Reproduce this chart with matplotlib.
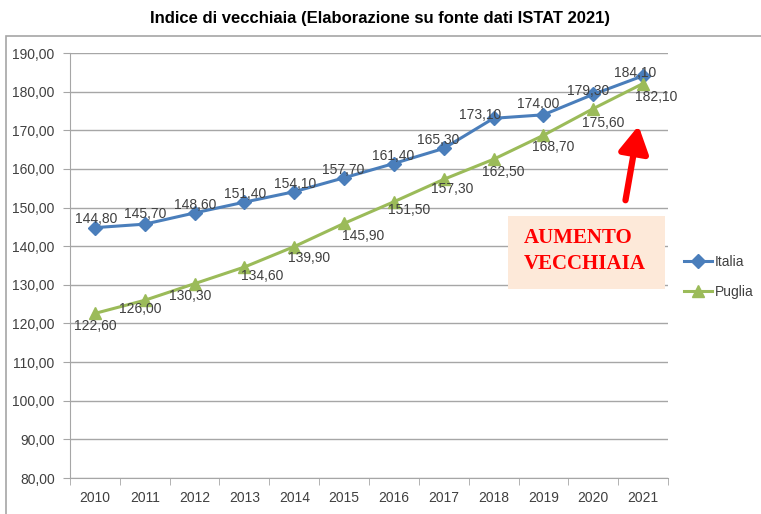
import numpy as np
import matplotlib.pyplot as plt
from matplotlib.patches import Rectangle, FancyArrowPatch

anni = ['2010', '2011', '2012', '2013', '2014', '2015', '2016', '2017', '2018', '2019', '2020', '2021']
italia = [144.8, 145.7, 148.6, 151.4, 154.1, 157.7, 161.4, 165.3, 173.1, 174.0, 179.3, 184.1]
puglia = [122.6, 126.0, 130.3, 134.6, 139.9, 145.9, 151.5, 157.3, 162.5, 168.7, 175.6, 182.1]
y_ticks = np.arange(80, 191, 10)

# spostamento delle etichette (pixel)
off_italia = [(1, 9), (0, 10), (1, 8), (1, 8), (1, 8), (-1, 8), (-1, 8), (-6, 8),
              (-13, 3), (-5, 11), (-5, 3), (-8, 3)]
off_puglia = [(0, -13), (-4, -9), (-4, -12), (18, -9), (15, -11), (19, -13), (15, -8),
              (8, -10), (10, -13), (10, -12), (10, -14), (13, -13)]

plt.rcParams['font.family'] = ['Liberation Sans', 'DejaVu Sans']

blu = '#4a7ebb'
verde = '#9bbb59'
testo = '#404040'

fig = plt.figure(figsize=(7.61, 5.14), dpi=100)
fig.patch.set_facecolor('white')

# cornice del grafico
fig.patches.append(Rectangle((6 / 761, -0.1), 1.1, 1 - 36 / 514 + 0.1, transform=fig.transFigure,
                             fill=False, edgecolor='#a6a6a6', linewidth=1.2))

fig.text(0.5, 1 - 18 / 514, 'Indice di vecchiaia (Elaborazione su fonte dati ISTAT 2021)',
         ha='center', va='center', fontsize=12, fontweight='bold', color='black')

ax = fig.add_axes([70 / 761, 1 - 478 / 514, 598 / 761, 425 / 514])
x = np.arange(len(anni))

ax.plot(x, italia, color=blu, linewidth=2.2, marker='D', markersize=7, label='Italia', zorder=3)
ax.plot(x, puglia, color=verde, linewidth=2.2, marker='^', markersize=8, label='Puglia', zorder=3)

for xi, v, o in zip(x, italia, off_italia):
    ax.annotate(f'{v:.2f}'.replace('.', ','), (xi, v), xytext=o, textcoords='offset pixels',
                ha='center', va='center', fontsize=10, color=testo, zorder=4)
for xi, v, o in zip(x, puglia, off_puglia):
    ax.annotate(f'{v:.2f}'.replace('.', ','), (xi, v), xytext=o, textcoords='offset pixels',
                ha='center', va='center', fontsize=10, color=testo, zorder=4)

ax.set_xlim(-0.5, len(anni) - 0.5)
ax.set_ylim(80, 190)
ax.set_yticks(y_ticks)
ax.set_yticklabels([f'{t:.2f}'.replace('.', ',') for t in y_ticks], fontsize=10, color=testo)
ax.set_xticks(x)
ax.set_xticklabels(anni, fontsize=10, color=testo)
ax.tick_params(axis='x', length=0, pad=9)
ax.set_xticks(np.arange(-0.5, len(anni), 1), minor=True)
ax.tick_params(axis='x', which='minor', length=5, color='#a6a6a6')
ax.tick_params(axis='y', length=5, color='#a6a6a6', pad=6)

ax.grid(axis='y', color='#a6a6a6', linewidth=1)
ax.set_axisbelow(True)
for s in ['top', 'right']:
    ax.spines[s].set_visible(False)
for s in ['left', 'bottom']:
    ax.spines[s].set_color('#a6a6a6')

# riquadro e freccia
box = Rectangle((508 / 761, 1 - 289 / 514), 157 / 761, 73 / 514, transform=fig.transFigure,
                facecolor='#fde9d9', edgecolor='none', zorder=5)
fig.patches.append(box)
fig.text(524 / 761, 1 - 251 / 514, 'AUMENTO\nVECCHIAIA', ha='left', va='center',
         fontsize=15, fontweight='bold', color='#ff0000', family='Liberation Serif',
         linespacing=1.4, zorder=6)
fig.patches.append(FancyArrowPatch(
    (625 / 761, 1 - 203 / 514), (639 / 761, 1 - 123 / 514), transform=fig.transFigure,
    arrowstyle='-|>,head_length=16,head_width=9', mutation_scale=1, color='#ff0000',
    linewidth=4.5, zorder=6))

ax.legend(loc='center left', bbox_to_anchor=(684 / 761, 1 - 277 / 514), bbox_transform=fig.transFigure,
          frameon=False, fontsize=10, handlelength=2.0, handletextpad=0.2, labelspacing=1.2,
          labelcolor=testo, borderpad=0, borderaxespad=0)

fig.savefig('out.png', dpi=100)
